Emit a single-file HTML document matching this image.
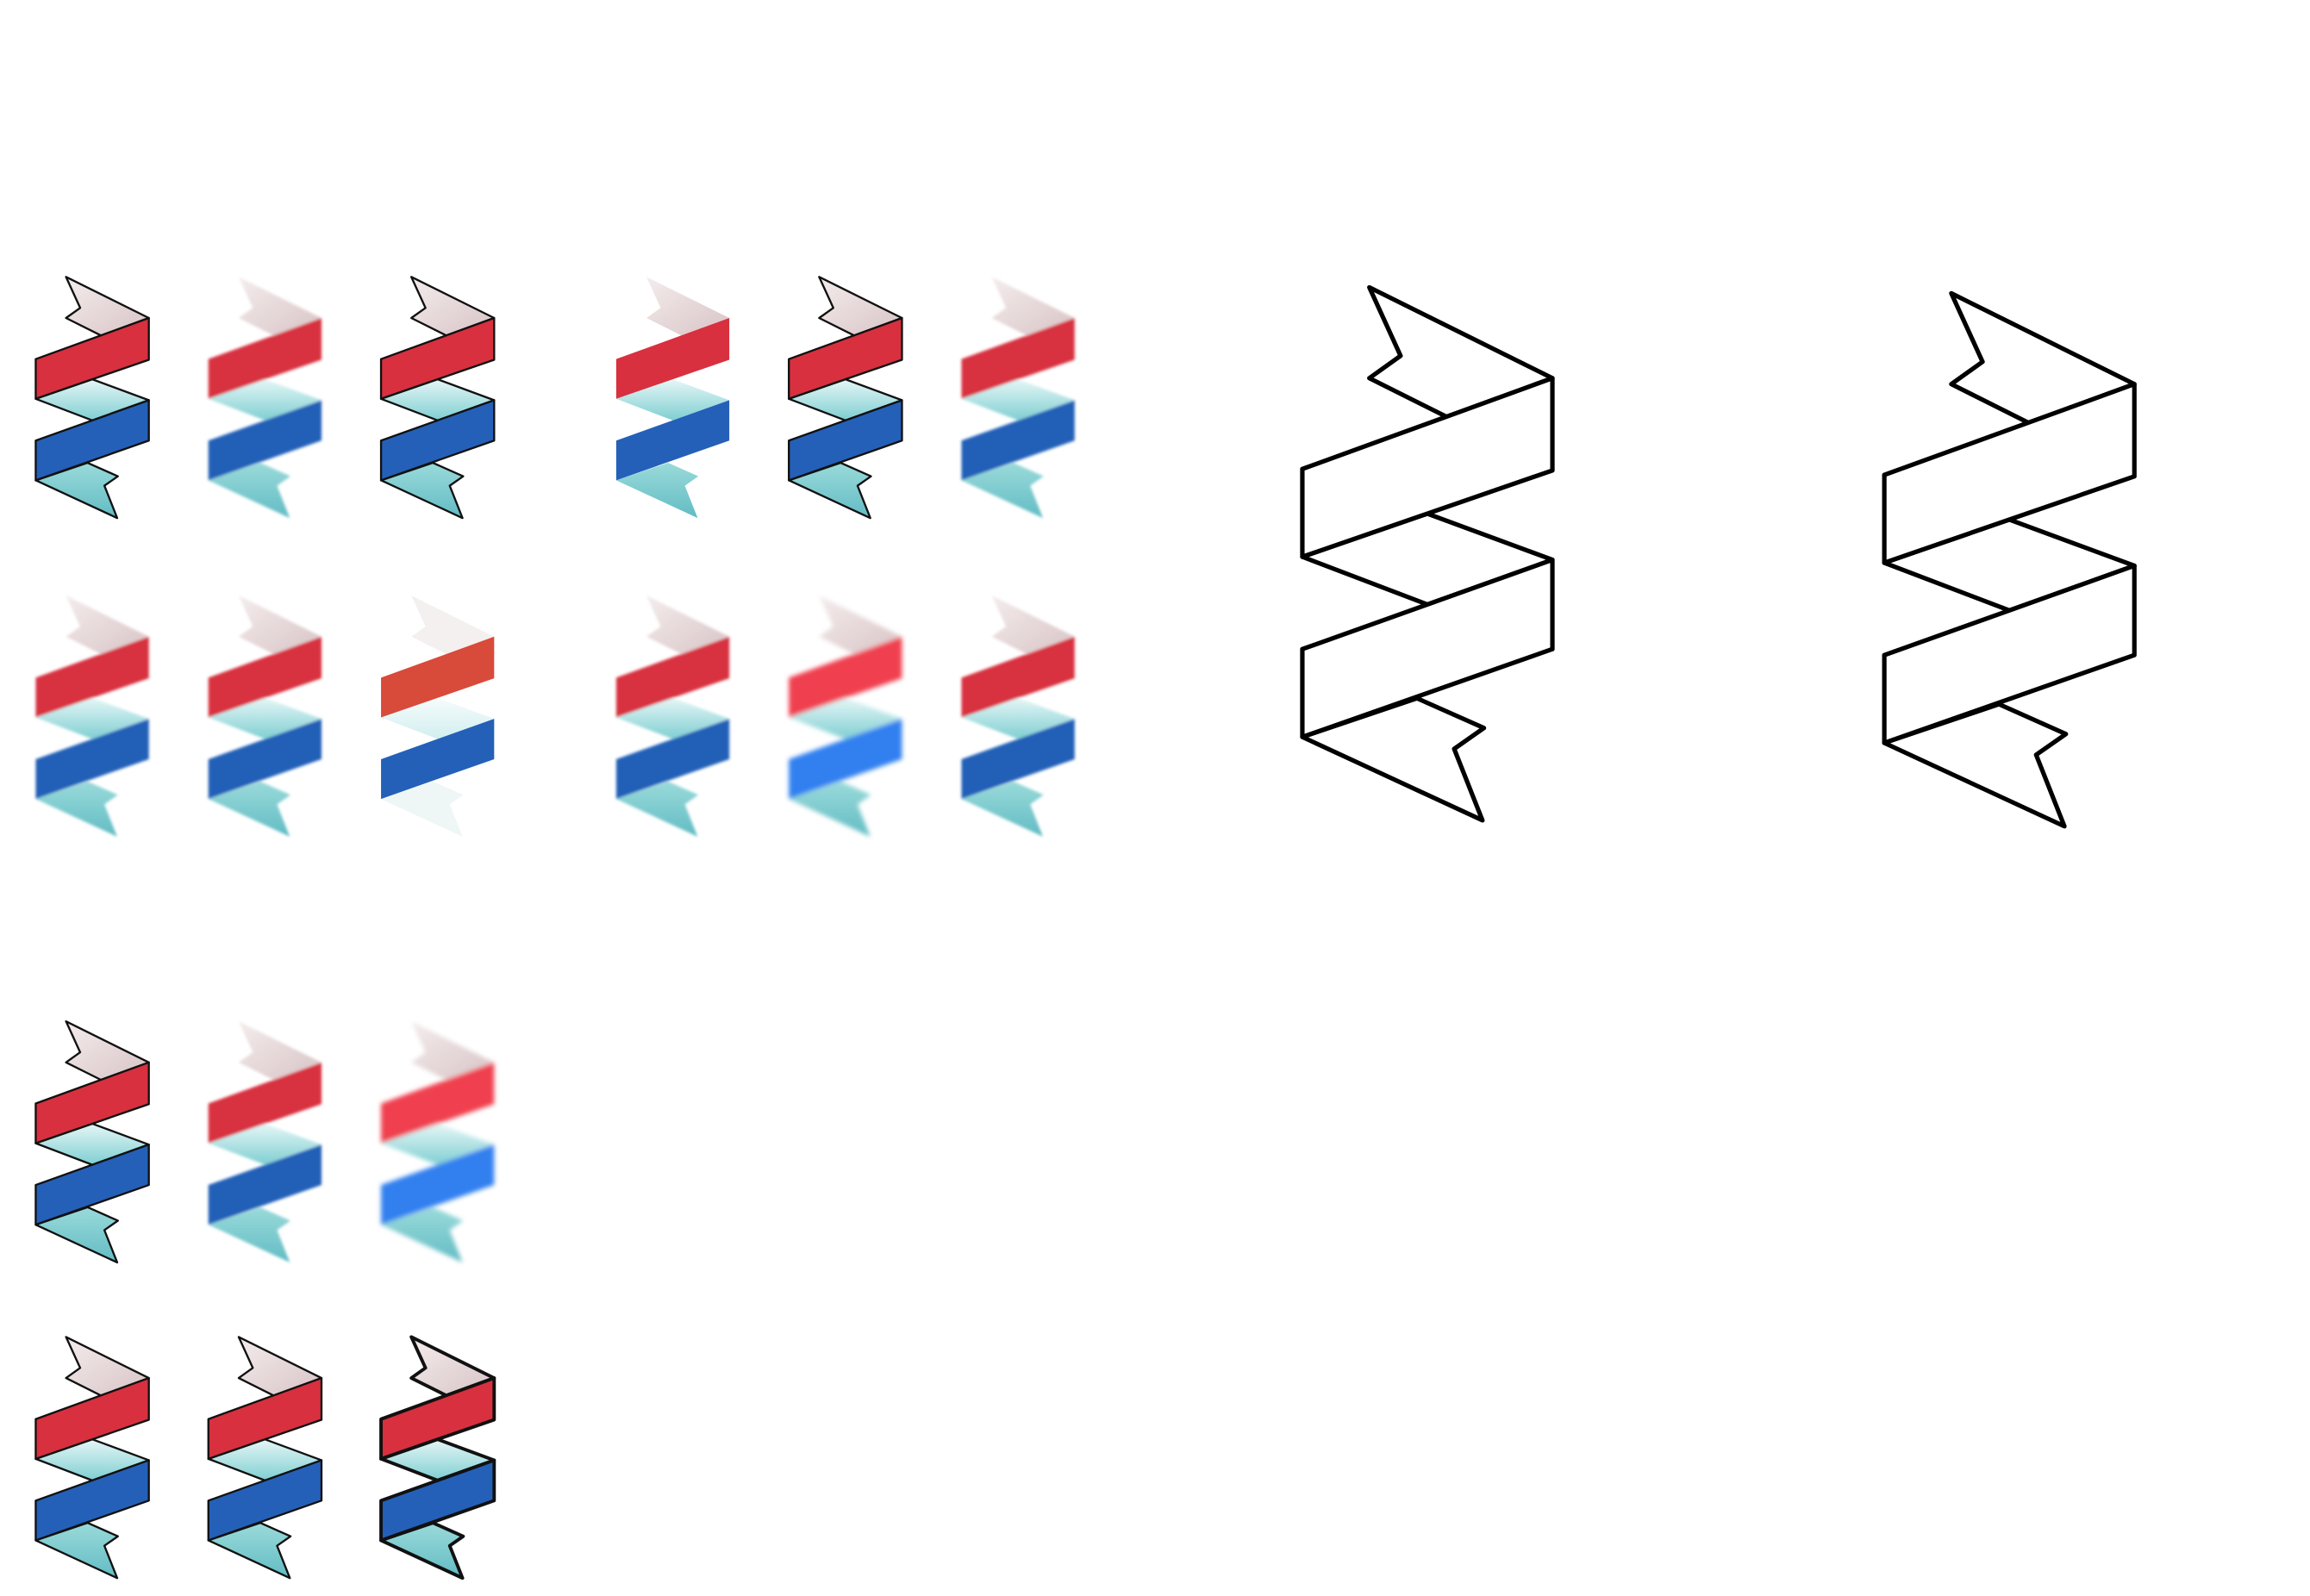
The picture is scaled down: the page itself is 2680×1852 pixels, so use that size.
<!DOCTYPE html>
<html><head><meta charset="utf-8"><style>
html,body{margin:0;padding:0;background:#fff;width:2680px;height:1852px;overflow:hidden}
svg{display:block}
</style></head><body>
<svg id="art" width="2680" height="1852" viewBox="0 0 1552 1072" preserveAspectRatio="none" xmlns="http://www.w3.org/2000/svg">
<defs>
<linearGradient id="gTop" x1="0" y1="0" x2="1" y2="1"><stop offset="0" stop-color="#f4ecec"/><stop offset="1" stop-color="#d8c4c6"/></linearGradient>
<linearGradient id="gMid" x1="0" y1="0" x2="0" y2="1"><stop offset="0" stop-color="#e6f6f6"/><stop offset="1" stop-color="#7fcfd2"/></linearGradient>
<linearGradient id="gBot" x1="0" y1="0" x2="0" y2="1"><stop offset="0" stop-color="#9adada"/><stop offset="1" stop-color="#62bcc4"/></linearGradient>
<filter id="blur1"><feGaussianBlur stdDeviation="2"/></filter>
<filter id="blur2"><feGaussianBlur stdDeviation="3.5"/></filter>
</defs>
<g id="icons"></g>
</svg>
<script>
const iconX = [24,140,256,414,530,646,24,140,256,414,530,646,24,140,256,24,140,256];
const iconY = [186,186,186,186,186,186,400,400,400,400,400,400,686,686,686,898,898,898];
const iconStyle = ['sharp','hatch','outline','glass','outline','splotch','soft','soft','pale','splotch','blur','soft','outline','soft','blur','outline','outline','bold'];
const outlineX = [875,1266];
const outlineY = [193,197];

const NS='http://www.w3.org/2000/svg';
const g=document.getElementById('icons');
const shapes={
 top:'45,0 168,61 97,87 45,61 66,46',
 red:'0,122 168,61 168,123 0,181',
 mid:'0,181 84,152 168,183 84,213',
 blue:'0,243 168,183 168,243 0,302',
 bot:'0,302 77,276 122,296 102,310 121,358'
};
function poly(parent,pts,fill,stroke,sw,name){
 const p=document.createElementNS(NS,'polygon');
 p.setAttribute('points',pts);
 p.setAttribute('fill',fill);
 p.setAttribute('stroke',stroke);
 p.setAttribute('stroke-width',sw);
 p.setAttribute('stroke-linejoin','round');
 
 
 parent.appendChild(p);
}
const s=76/168;
for(let i=0;i<iconX.length;i++){
 const st=iconStyle[i];
 const grp=document.createElementNS(NS,'g');
 grp.setAttribute('transform','translate('+iconX[i]+','+iconY[i]+') scale('+s+')');
 
 
 if(st==='blur') grp.setAttribute('filter','url(#blur2)');
 if(st==='soft'||st==='splotch'||st==='hatch') grp.setAttribute('filter','url(#blur1)');
 const stroke=(st==='outline'||st==='sharp'||st==='bold')?'#111':'none';
 const sw=st==='bold'?5:3;
 const red=st==='pale'?'#d84a3a':(st==='blur'?'#f04050':'#d8303f');
 const blue=st==='blur'?'#3080f0':'#2460b8';
 const op=st==='pale'?0.35:1;
 poly(grp,shapes.top,st==='pale'?'#f4f0f0':'url(#gTop)',stroke,sw,'ribbon-top-flag');
 const m=document.createElementNS(NS,'g');m.setAttribute('opacity',op);
 
 
 grp.appendChild(m);
 poly(m,shapes.mid,'url(#gMid)',stroke,sw,'ribbon-middle-fold');
 poly(grp,shapes.bot,st==='pale'?'#eef6f6':'url(#gBot)',stroke,sw,'ribbon-bottom-flag');
 poly(grp,shapes.red,red,stroke,sw,'ribbon-red-band');
 poly(grp,shapes.blue,blue,stroke,sw,'ribbon-blue-band');
 g.appendChild(grp);
}
for(let i=0;i<outlineX.length;i++){
 const grp=document.createElementNS(NS,'g');
 grp.setAttribute('transform','translate('+outlineX[i]+','+outlineY[i]+')');
 
 
 ['top','mid','bot','red','blue'].forEach(k=>poly(grp,shapes[k],'#fff','#000',3,'outline-'+k));
 g.appendChild(grp);
}
</script>
</body></html>
